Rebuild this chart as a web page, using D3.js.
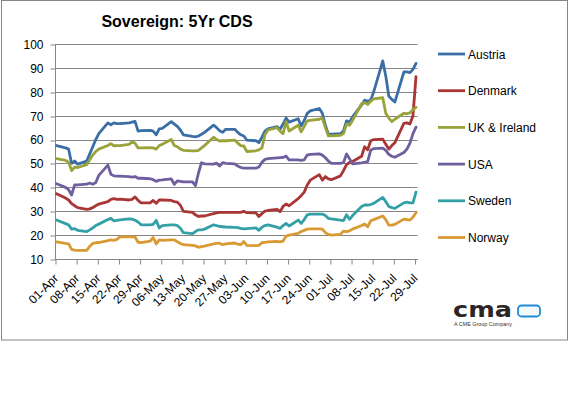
<!DOCTYPE html>
<html lang="en">
<head>
    <meta charset="UTF-8">
    <script src="https://d3js.org/d3.v7.min.js"></script>
    <title>Sovereign: 5Yr CDS</title>
    <style>
        html,
        body {
            margin: 0px;
            padding: 0px;
            background-color: #ffffff;
            font-family: "Liberation Sans", Arial, sans-serif;
        }
        svg {
            display: block;
        }
    </style>
</head>
<body>
    <div id="chart"></div>

    <script>
        // weekdays 01-Apr-2011 .. 29-Jul-2011
        let startDate = new Date(2011, 3, 1);
        let endDate = new Date(2011, 6, 29);

        let seriesNames = ['Austria', 'Denmark', 'UK & Ireland', 'USA', 'Sweden', 'Norway'];
        let seriesColors = ['#3a6ea5', '#a93535', '#9aa33a', '#6f5f9f', '#33a0a5', '#d99a34'];

        let yTicks = [10, 20, 30, 40, 50, 60, 70, 80, 90, 100];

        let austria = [
            57.5,
            56.5, 56, 50, 51, 49.7,
            51, 54, 57, 60, 62.5,
            67, 66.2, 67, 66.7, 66.7,
            67, 67.3, 67.6, 63.5, 63.7,
            63.8, 63.5, 62, 64.5, 64.7,
            67.5, 66.5, 65.5, 64, 62,
            61.3, 61.1, 61.5, 62.2, 63,
            66, 65, 63.7, 63, 64.3,
            64.3, 63, 62, 61.5, 59.8,
            59.5, 58.7, 61, 63.5, 64.5,
            65.4, 64.3, 66.5, 69, 67.3,
            68.7, 65.7, 68, 71, 72,
            73, 71, 66, 62.2, 62.3,
            62.5, 63.6, 67.8, 67.3, 69.5,
            74.5, 76.5, 76, 76.5, 80,
            92.9, 86.6, 78.2, 76.8, 75.7,
            88.3, 88.3, 88, 89.4, 91.9
        ];
        let denmark = [
            37.3,
            35.5, 34.7, 33.2, 32.3, 31.5,
            30.8, 31, 31.5, 32.3, 33,
            34, 35, 35.3, 35, 35.1,
            34.7, 35, 36, 34.5, 33.5,
            33.5, 34.5, 33.3, 34.7, 34.7,
            34.5, 34, 33.8, 32.5, 29.9,
            29.5, 28.5, 27.8, 28, 28,
            29, 29.3, 29.5, 29.5, 29.5,
            29.5, 29.5, 29.5, 30, 29.4,
            29.3, 27.8, 29, 30, 30.3,
            30.8, 29.8, 32, 33, 32.3,
            35.3, 36.5, 38, 41, 43,
            45.3, 43, 44.5, 43.5, 43.2,
            44.8, 47, 49.5, 50.4, 50.8,
            53, 57, 55.7, 59.5, 60,
            60.2, 58, 56, 57.5, 58.7,
            66.8, 67, 66.5, 70, 86.3
        ];
        let ukIreland = [
            52,
            51.3, 50.5, 47, 48.5, 48.3,
            49.5, 51.5, 53.5, 55, 56,
            57.5, 58.3, 57.4, 57.5, 57.5,
            58, 59, 58.5, 56.5, 56.5,
            56.6, 56.5, 56, 57.5, 58,
            60, 57.5, 57, 56, 55.5,
            55.3, 55.3, 55.5, 56.5, 57.5,
            61, 60, 59.4, 59.5, 59.5,
            59.8, 58.5, 57.5, 57.3, 55,
            55.3, 55.7, 56.5, 62, 64,
            65, 63.5, 62.5, 67.5, 63.6,
            66, 63.2, 65.5, 67.8, 68,
            68.5, 69, 65, 61.5, 61.5,
            61.8, 62.5, 66.5, 66, 68,
            75, 75.5, 74.7, 76, 77,
            77.5, 71, 69, 67.5, 68.5,
            71, 70.8, 71.2, 72.5, 73.5
        ];
        let usa = [
            41.5,
            40, 39, 36.8, 41, 41,
            41.3, 41.8, 41.3, 42, 45,
            49.3, 45.5, 44.8, 44.7, 44.7,
            44.5, 44.3, 44.5, 43.8, 43.8,
            43.6, 43.2, 42.5, 43, 43.1,
            43.5, 41.3, 42.7, 42.5, 42.3,
            42.3, 40.7, 46, 50.3, 49.8,
            49.7, 50.1, 48.9, 50.3, 50,
            49.8, 48.9, 48.3, 48, 48,
            48, 48.5, 50.5, 51.7, 52,
            52.3, 52.4, 52.5, 53.1, 51.5,
            51.5, 51.3, 51.5, 53.5, 53.8,
            54, 53.5, 52.4, 51, 50,
            50, 50.3, 54, 52, 49.8,
            50.2, 50.5, 50.8, 55.5, 56.2,
            56.4, 55.5, 53.8, 53, 52.6,
            54.6, 56, 58.5, 62.5, 65.2
        ];
        let sweden = [
            26.3,
            24.8, 24.3, 22.5, 22.7, 22,
            21.5, 22.2, 23, 24, 24.6,
            26.5, 27, 26, 26.2, 26.4,
            26.8, 26.7, 26.2, 25.5, 24.3,
            24.3, 24.5, 26.2, 23, 24,
            24.3, 24.3, 24, 22.9, 21,
            20.6, 21.5, 22.2, 22.2, 22.5,
            24.3, 24, 23.6, 23.5, 23.4,
            23.2, 23.1, 22.8, 22.6, 22.7,
            23, 22, 23.3, 24, 24.3,
            23.3, 22.8, 24, 24.9, 23.8,
            26.3, 24.9, 26.5, 28.5, 28.8,
            28.8, 28.8, 28.2, 27, 26.8,
            26.3, 26.1, 28.5, 26.6, 28.2,
            32, 32.6, 32.6, 32.8, 33.3,
            35.8, 34, 32, 31.5, 31.2,
            33.5, 33.8, 33.5, 33.5, 38
        ];
        let norway = [
            17.2,
            16.5, 16.3, 14, 13.7, 13.6,
            13.6, 15.3, 16.5, 16.8, 16.9,
            17.7, 18, 17.8, 18.2, 19.3,
            19.3, 19.3, 19.2, 17, 16.9,
            17.5, 19, 16.3, 18, 17.8,
            18, 18, 17.2, 16.5, 16,
            15.7, 15.5, 14.9, 15.2, 15.4,
            16.3, 16.5, 16.6, 16, 16.3,
            16.7, 16.2, 16, 17.3, 15.7,
            15.6, 15.7, 16.8, 17, 17.2,
            17.4, 17.2, 17.5, 19.5, 20,
            20.7, 21.5, 22, 22.5, 22.6,
            22.6, 22.5, 21, 20.3, 20,
            20.3, 21.7, 21.5, 21.8, 22.5,
            24, 24.6, 23.5, 26, 26.5,
            28, 26.5, 24.2, 24.2, 24.5,
            26.7, 26.5, 26.3, 27.5, 29.4
        ];
        let seriesValues = [austria, denmark, ukIreland, usa, sweden, norway];

        let dates = d3.timeDay.range(startDate, d3.timeDay.offset(endDate, 1))
            .filter(d => d.getDay() !== 0 && d.getDay() !== 6);
        let tickDates = d3.timeDay.range(startDate, d3.timeDay.offset(endDate, 1), 7);

        let width = 570;
        let height = 398;

        let plot = { left: 55, right: 417.5, top: 44, bottom: 259 };

        let svg = d3.select('#chart').append('svg').attr('width', width).attr('height', height);

        svg.append('rect')
            .attr('x', 1.5).attr('y', 0.5)
            .attr('width', 566).attr('height', 339.5)
            .attr('fill', '#ffffff')
            .attr('stroke', '#868686');

        let x = d3.scaleTime()
            .domain([startDate, d3.timeDay.offset(endDate, 1)])
            .range([plot.left, plot.right]);
        let y = d3.scaleLinear()
            .domain([10, 100])
            .range([plot.bottom, plot.top]);

        // gridlines
        svg.append('g')
            .selectAll('line')
            .data(yTicks)
            .join('line')
            .attr('x1', plot.left).attr('x2', plot.right)
            .attr('y1', d => Math.round(y(d)) + 0.5)
            .attr('y2', d => Math.round(y(d)) + 0.5)
            .attr('stroke', '#868686')
            .attr('stroke-width', 1);

        // y axis
        let yAxis = svg.append('g')
            .attr('transform', `translate(${plot.left + 0.5},0.5)`)
            .call(d3.axisLeft(y).tickValues(yTicks).tickSize(5).tickPadding(7));
        yAxis.select('.domain').attr('stroke', '#868686').attr('d', `M0,${Math.round(y(100))}V${Math.round(y(10))}`);
        yAxis.selectAll('.tick line').attr('stroke', '#868686')
            .attr('transform', (d) => `translate(0,${Math.round(y(d)) - y(d)})`);
        yAxis.selectAll('.tick text')
            .attr('font-family', '"Liberation Sans", Arial, sans-serif')
            .attr('font-size', 12)
            .attr('fill', '#000');

        // x axis
        let xAxis = svg.append('g')
            .attr('transform', `translate(0.5,${Math.round(y(10)) + 0.5})`)
            .call(d3.axisBottom(x).tickValues(tickDates).tickSize(5).tickFormat(''));
        xAxis.select('.domain').attr('stroke', '#868686').attr('d', `M${plot.left},0H${plot.right}`);
        xAxis.selectAll('.tick line').attr('stroke', '#868686');

        let fmt = d3.timeFormat('%d-%b');
        svg.append('g')
            .selectAll('text')
            .data(tickDates)
            .join('text')
            .attr('transform', d => `translate(${x(d) + 4},${plot.bottom + 20}) rotate(-45)`)
            .attr('text-anchor', 'end')
            .attr('font-size', 12)
            .attr('fill', '#000')
            .text(d => fmt(d));

        // series lines
        let line = d3.line()
            .x((v, i) => x(d3.timeHour.offset(dates[i], 12)))
            .y(v => y(v));

        svg.append('g')
            .selectAll('path')
            .data(seriesValues)
            .join('path')
            .attr('d', d => line(d))
            .attr('fill', 'none')
            .attr('stroke', (d, i) => seriesColors[i])
            .attr('stroke-width', 2.8)
            .attr('stroke-linejoin', 'round')
            .attr('stroke-linecap', 'round');

        // title
        svg.append('text')
            .attr('x', 177)
            .attr('y', 27)
            .attr('text-anchor', 'middle')
            .attr('font-size', 16)
            .attr('font-weight', 'bold')
            .attr('fill', '#000')
            .text('Sovereign: 5Yr CDS');

        // legend
        let legend = svg.append('g')
            .selectAll('g')
            .data(seriesNames)
            .join('g')
            .attr('transform', (d, i) => `translate(438,${54 + i * 36.7})`);
        legend.append('line')
            .attr('x1', 0).attr('x2', 27)
            .attr('stroke', (d, i) => seriesColors[i])
            .attr('stroke-width', 2.8);
        legend.append('text')
            .attr('x', 30)
            .attr('y', 4.5)
            .attr('font-size', 12)
            .attr('fill', '#000')
            .text(d => d);

        // cma logo
        let logo = svg.append('g');
        logo.append('text')
            .attr('x', 453)
            .attr('y', 317)
            .attr('font-family', '"DejaVu Sans", sans-serif')
            .attr('font-size', 22)
            .attr('font-weight', 'bold')
            .attr('fill', '#2b2526')
            .attr('textLength', 59)
            .attr('lengthAdjust', 'spacingAndGlyphs')
            .text('cma');
        logo.append('rect')
            .attr('x', 518).attr('y', 305.5)
            .attr('width', 22).attr('height', 11)
            .attr('rx', 3.5)
            .attr('fill', '#f4f9fd')
            .attr('stroke', '#1f8ad6')
            .attr('stroke-width', 1.8);
        logo.append('text')
            .attr('x', 454)
            .attr('y', 326)
            .attr('font-size', 5)
            .attr('fill', '#333')
            .attr('textLength', 58)
            .attr('lengthAdjust', 'spacingAndGlyphs')
            .text('A CME Group Company');
    </script>
</body>
</html>
